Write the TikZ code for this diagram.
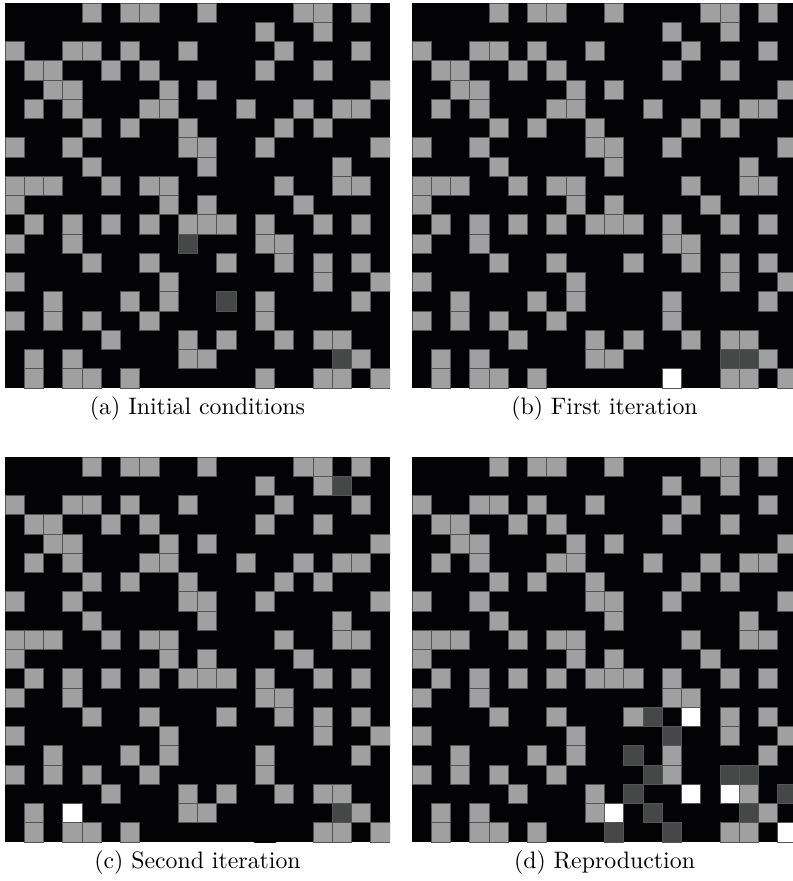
\documentclass[tikz,border=0pt]{standalone}
\usepackage{amsmath}
\usetikzlibrary{positioning}

\definecolor{cellbg}{RGB}{3,3,6}
\definecolor{cellgrey}{RGB}{160,160,160}
\definecolor{celldark}{RGB}{70,72,72}
\definecolor{celledge}{RGB}{85,85,85}

\tikzset{
  board/.style={fill=cellbg, draw=none},
  alive/.style={fill=cellgrey, draw=celledge, line width=0.4pt},
  fading/.style={fill=celldark, draw=celledge, line width=0.4pt},
  born/.style={fill=white, draw=celledge, line width=0.4pt},
  dead/.style={fill=cellbg, draw=cellbg, line width=0.9pt},
  caption/.style={anchor=base, font=\normalsize}
}

% row/{columns} of the grey cells shared by all four grids
\newcommand{\baserows}{0/{4,6,7,10,15,16,18}, 1/{13,16}, 2/{0,3,4,6,9,14,18},
  3/{1,2,5,7,13,16}, 4/{2,3,8,10,19}, 5/{1,3,7,8,12,15,17,18},
  6/{4,6,9,14,16}, 7/{0,3,9,10,13,19}, 8/{4,10,17},
  9/{0,1,2,5,7,8,14,17,18}, 10/{0,8,10,15}, 11/{1,3,5,7,9,10,11,13,16,18},
  12/{0,3,13,14}, 13/{4,7,11,14,16,18}, 14/{0,8,16,19}, 15/{2,6,8,13,18},
  16/{0,2,4,7,13}, 17/{5,9,11,14,16,17}, 18/{1,3,9,10,18},
  19/{1,3,4,6,13,16,17,19}}

\newcommand{\cellsz}{19.25}

\newcommand{\drawboard}{%
  \fill[board] (0,0) rectangle (20*\cellsz,20*\cellsz);
  \clip (0,0) rectangle (20*\cellsz,20*\cellsz);
  \foreach \r/\cols in \baserows {
    \foreach \c in \cols {
      \draw[alive] (\c*\cellsz,\r*\cellsz) rectangle ++(\cellsz,\cellsz);
    }
  }%
}

\newcommand{\markcells}[2]{%
  \foreach \c/\r in {#2} {
    \draw[#1] (\c*\cellsz,\r*\cellsz) rectangle ++(\cellsz,\cellsz);
  }%
}

\begin{document}
\begin{tikzpicture}[x=0.42pt, y=-0.42pt]
    \useasboundingbox (0,0) rectangle (793,881);

    % Initial conditions
    \begin{scope}[shift={(5,3)}]
        \drawboard
        \markcells{fading}{9/12, 11/15, 17/18}
    \end{scope}

    % First iteration
    \begin{scope}[shift={(412,3)}]
        \drawboard
        \markcells{fading}{16/18, 17/18}
        \markcells{born}{13/19}
    \end{scope}

    % Second iteration
    \begin{scope}[shift={(5,457)}]
        \drawboard
        \markcells{dead}{13/19}
        \markcells{fading}{17/1, 17/18}
        \markcells{born}{3/18}
    \end{scope}

    % Reproduction
    \begin{scope}[shift={(412,457)}]
        \drawboard
        \markcells{fading}{12/13, 13/14, 11/15, 12/16, 16/16, 17/16, 11/17, 19/17,
          12/18, 17/18, 10/19, 13/19}
        \markcells{born}{14/13, 14/17, 16/17, 10/18, 19/19}
    \end{scope}

    % Captions
    \node[caption] (capa) at (197.5,414.5) {(a) Initial conditions};
    \node[caption] (capb) at (604.5,414.5) {(b) First iteration};
    \node[caption] (capc) at (197.5,868.5) {(c) Second iteration};
    \node[caption] (capd) at (604.5,868.5) {(d) Reproduction};
\end{tikzpicture}
\end{document}
